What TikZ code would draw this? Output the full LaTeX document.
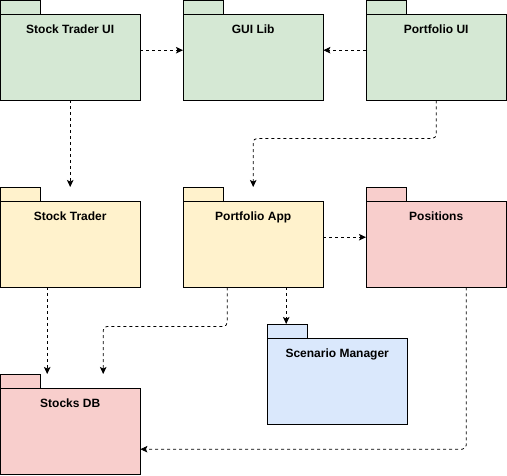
\documentclass[tikz,border=0pt]{standalone}
\usepackage{fontspec}
\setmainfont{Liberation Sans}
\usepackage{tikz}
\definecolor{pkggreen}{HTML}{D5E8D4}
\definecolor{pkgyellow}{HTML}{FFF2CC}
\definecolor{pkgred}{HTML}{F8CECC}
\definecolor{pkgblue}{HTML}{DAE8FC}
\tikzset{>=latex}
\usetikzlibrary{arrows.meta}

\begin{document}
\begin{tikzpicture}[x=1pt, y=-1pt,
                pkg/.style={minimum width=140pt, minimum height=100pt, inner sep=0pt, anchor=north west},
                pkgline/.style={draw=black, line width=0.9pt},
                pkgtext/.style={font=\bfseries\fontsize{12}{14}\selectfont, anchor=base, inner sep=0pt},
                dep/.style={-{Stealth[length=7pt,width=6.5pt,inset=1.5pt]}, line width=0.8pt,
                            dash pattern=on 3pt off 3pt, rounded corners=4pt}]
                \useasboundingbox (0,0) rectangle (507,475);

                % packages: name / x / y / colour / title
                \foreach \n/\x/\y/\c/\t in {stui/0/0/pkggreen/Stock Trader UI,
                                            gui/183/0/pkggreen/GUI Lib,
                                            pfui/366/0/pkggreen/Portfolio UI,
                                            st/0/187/pkgyellow/Stock Trader,
                                            pfapp/183/187/pkgyellow/Portfolio App,
                                            pos/366/187/pkgred/Positions,
                                            scen/267/324/pkgblue/Scenario Manager,
                                            sdb/0/374/pkgred/Stocks DB}{
                    \node[pkg] (\n) at (\x,\y) {};
                    \draw[pkgline, fill=\c] (\n.north west) rectangle ++(40,14); % tab
                    \draw[pkgline, fill=\c] ([yshift=-14pt]\n.north west) rectangle (\n.south east);
                    \node[pkgtext] (\n-t) at ([yshift=-33.5pt]\n.north) {\t};
                }

                % dependencies
                \draw[dep] (stui.east) -- (gui.west);
                \draw[dep] (pfui.west) -- (gui.east);
                \draw[dep] (stui.south) -- (st.north);
                \draw[dep] (pfui.south) -- ++(0,38) -| (pfapp.north);
                \draw[dep] (pfapp.east) -- (pos.west);
                \draw[dep] ([xshift=-26pt]pfapp.south) -- ++(0,39) -| ([xshift=33pt]sdb.north);
                \draw[dep] ([xshift=33pt]pfapp.south) -- ([xshift=-51pt]scen.north);
                \draw[dep] ([xshift=-23pt]st.south) -- ([xshift=-23pt]sdb.north);
                \draw[dep] ([xshift=30pt]pos.south) |- ([yshift=-25pt]sdb.east);

\end{tikzpicture}
\end{document}
